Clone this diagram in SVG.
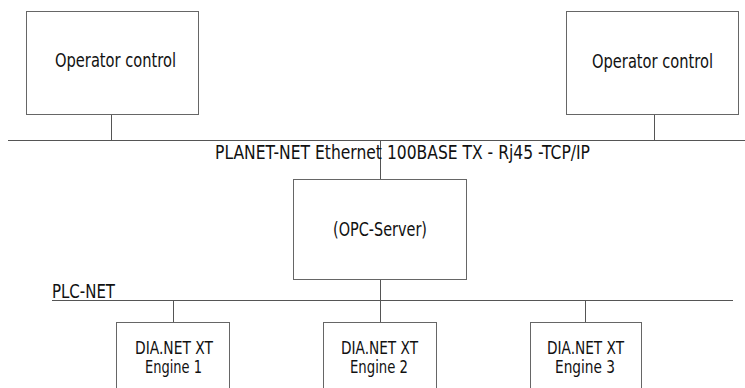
<svg xmlns="http://www.w3.org/2000/svg" width="745" height="388" viewBox="0 0 745 388">
<style>
.box{fill:#fff;stroke:#666;stroke-width:1}
.ln{stroke:#555;stroke-width:1;fill:none}
text{font-family:"DejaVu Sans Condensed","DejaVu Sans",sans-serif;fill:#111;font-size:20px}
.e{font-size:17px}
</style>
<rect width="745" height="388" fill="#fff"/>
<g id="connectors">
<line class="ln" x1="8" y1="140.5" x2="745" y2="140.5"/>
<line class="ln" x1="111.5" y1="114" x2="111.5" y2="140"/>
<line class="ln" x1="654.5" y1="114" x2="654.5" y2="140"/>
<line class="ln" x1="380.5" y1="140" x2="380.5" y2="179"/>
<line class="ln" x1="380.5" y1="279" x2="380.5" y2="300"/>
<line class="ln" x1="52" y1="300.5" x2="733" y2="300.5"/>
<line class="ln" x1="173.5" y1="300" x2="173.5" y2="323"/>
<line class="ln" x1="380.5" y1="300" x2="380.5" y2="323"/>
<line class="ln" x1="585.5" y1="300" x2="585.5" y2="323"/>
</g>
<g id="net-labels">
<text x="215" y="159" font-size="22" textLength="375" lengthAdjust="spacingAndGlyphs">PLANET-NET Ethernet 100BASE TX - Rj45 -TCP/IP</text>
<text x="52" y="298" font-size="18" textLength="63" lengthAdjust="spacingAndGlyphs">PLC-NET</text>
</g>
<g id="op1">
<rect class="box" x="26.5" y="11.5" width="172" height="103"/>
<text x="55" y="67" textLength="121" lengthAdjust="spacingAndGlyphs">Operator control</text>
</g>
<g id="op2">
<rect class="box" x="566.5" y="11.5" width="172" height="103"/>
<text x="592" y="68" textLength="121" lengthAdjust="spacingAndGlyphs">Operator control</text>
</g>
<g id="opc">
<rect class="box" x="293.5" y="179.5" width="173" height="100"/>
<text x="333" y="236" font-size="18" textLength="94" lengthAdjust="spacingAndGlyphs">(OPC-Server)</text>
</g>
<g id="eng1">
<rect class="box" x="116.5" y="322.5" width="113" height="80"/>
<text class="e" x="135" y="354" textLength="78" lengthAdjust="spacingAndGlyphs">DIA.NET XT</text>
<text class="e" x="145" y="373" textLength="57" lengthAdjust="spacingAndGlyphs">Engine 1</text>
</g>
<g id="eng2">
<rect class="box" x="323.5" y="322.5" width="113" height="80"/>
<text class="e" x="341" y="354" textLength="77" lengthAdjust="spacingAndGlyphs">DIA.NET XT</text>
<text class="e" x="350" y="373" textLength="58" lengthAdjust="spacingAndGlyphs">Engine 2</text>
</g>
<g id="eng3">
<rect class="box" x="530.5" y="322.5" width="111" height="80"/>
<text class="e" x="547" y="354" textLength="77" lengthAdjust="spacingAndGlyphs">DIA.NET XT</text>
<text class="e" x="555" y="373" textLength="60" lengthAdjust="spacingAndGlyphs">Engine 3</text>
</g>
</svg>
